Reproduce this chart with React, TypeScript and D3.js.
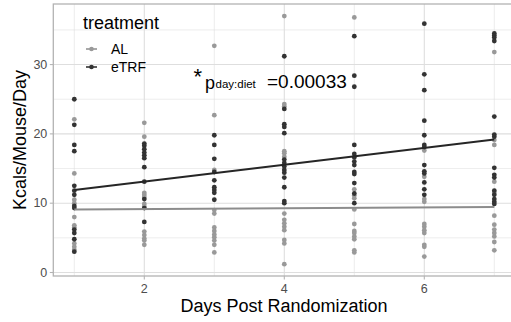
import React from "react";
import * as d3 from "d3";

// ---- data ----
const days = [1, 2, 3, 4, 5, 6, 7];
const alValues: number[][] = [
  [22.1, 14.3, 10.5, 10.0, 8.0, 6.8, 6.5, 4.2, 3.7, 3.3],
  [21.6, 19.6, 11.5, 11.2, 10.9, 9.9, 9.5, 5.9, 5.4, 4.9, 4.6, 4.0],
  [32.7, 22.7, 14.8, 9.0, 8.5, 6.5, 6.0, 5.5, 5.1, 4.6, 4.0, 2.9],
  [37.0, 24.3, 24.0, 17.5, 17.2, 16.7, 8.5, 7.6, 7.1, 6.6, 6.1, 4.7, 4.2, 1.2],
  [36.8, 12.0, 11.1, 10.7, 9.1, 7.0, 6.0, 5.7, 5.2, 4.8, 3.2, 2.9],
  [17.6, 13.8, 10.6, 10.2, 7.0, 6.6, 6.1, 5.7, 4.0, 3.7, 2.3],
  [31.8, 19.1, 18.4, 13.1, 11.5, 8.2, 6.9, 6.2, 5.7, 5.2, 4.4, 3.2],
];
const etrfValues: number[][] = [
  [25.0, 21.3, 18.4, 17.5, 12.5, 11.8, 11.2, 9.6, 9.3, 6.2, 5.7, 4.8, 3.0],
  [18.6, 18.3, 17.8, 17.3, 16.9, 16.5, 15.2, 13.1, 10.6, 9.3, 7.3],
  [19.8, 18.4, 16.4, 14.5, 13.3, 12.3, 11.9, 11.5, 10.5],
  [31.2, 23.6, 21.4, 21.0, 20.1, 16.3, 15.8, 15.3, 14.8, 14.4, 13.7, 12.3, 10.3, 10.0],
  [34.1, 28.4, 26.8, 18.4, 17.1, 16.6, 16.0, 15.5, 14.5, 14.2, 12.9, 11.4, 10.0],
  [35.9, 28.6, 26.3, 21.9, 19.8, 18.4, 18.1, 15.5, 14.6, 14.3, 13.0, 12.0, 11.2],
  [34.5, 34.2, 33.9, 33.4, 22.5, 19.9, 19.6, 15.1, 14.1, 13.7, 11.8, 11.2, 10.6, 10.2, 9.9],
];
// fitted regression line values at day 1 and day 7
const fitDays = [1, 7];
const alFit = [9.1, 9.45];
const etrfFit = [11.9, 19.2];

const xTicks = [2, 4, 6];
const xMinor = [1, 3, 5, 7];
const yTicks = [0, 10, 20, 30];
const yMinor = [5, 15, 25, 35];
const seriesNames = ["AL", "eTRF"];

const W = 511;
const H = 322;
const FONT = "'Liberation Sans', Arial, Helvetica, sans-serif";
const AL_COLOR = "#999999";
const ETRF_COLOR = "#333333";
const AL_LINE = "#8c8c8c";
const ETRF_LINE = "#262626";

export default function App() {
  const panel = { left: 53.3, top: 4, right: 515.3, bottom: 276 };
  const x = d3.scaleLinear().domain([0.7, 7.3]).range([panel.left, panel.right]);
  const y = d3.scaleLinear().domain([-0.505, 38.74]).range([panel.bottom, panel.top]);
  const line = d3
    .line<[number, number]>()
    .x((d) => x(d[0]))
    .y((d) => y(d[1]));

  const pts: { d: number; v: number; c: string; k: string }[] = [];
  days.forEach((d, i) => {
    alValues[i].forEach((v, j) => pts.push({ d, v, c: AL_COLOR, k: `a${i}-${j}` }));
    etrfValues[i].forEach((v, j) => pts.push({ d, v, c: ETRF_COLOR, k: `e${i}-${j}` }));
  });

  const gridMajor = "#dedede";
  const tickColor = "#b3b3b3";
  const labelColor = "#4d4d4d";

  return (
    <svg
      width={W}
      height={H}
      style={{ position: "absolute", left: 0, top: 0, background: "#fff" }}
      fontFamily={FONT}
    >
      <defs>
        <clipPath id="pclip">
          <rect x={panel.left} y={panel.top} width={panel.right - panel.left} height={panel.bottom - panel.top} />
        </clipPath>
      </defs>
      <rect x={0} y={0} width={W} height={H} fill="#fff" />
      <g clipPath="url(#pclip)">
        {yMinor.map((t) => (
          <line key={"ym" + t} x1={panel.left} x2={panel.right} y1={y(t)} y2={y(t)} stroke={gridMajor} strokeWidth={0.55} />
        ))}
        {xMinor.map((t) => (
          <line key={"xm" + t} x1={x(t)} x2={x(t)} y1={panel.top} y2={panel.bottom} stroke={gridMajor} strokeWidth={0.55} />
        ))}
        {yTicks.map((t) => (
          <line key={"yg" + t} x1={panel.left} x2={panel.right} y1={y(t)} y2={y(t)} stroke={gridMajor} strokeWidth={1.07} />
        ))}
        {xTicks.map((t) => (
          <line key={"xg" + t} x1={x(t)} x2={x(t)} y1={panel.top} y2={panel.bottom} stroke={gridMajor} strokeWidth={1.07} />
        ))}
        {pts.map((p) => (
          <circle key={p.k} cx={x(p.d)} cy={y(p.v)} r={2.4} fill={p.c} />
        ))}
        <path d={line(fitDays.map((d, i) => [d, alFit[i]]) as [number, number][]) || ""} fill="none" stroke={AL_LINE} strokeWidth={2} />
        <path d={line(fitDays.map((d, i) => [d, etrfFit[i]]) as [number, number][]) || ""} fill="none" stroke={ETRF_LINE} strokeWidth={2} />
      </g>
      {/* panel border */}
      <rect
        x={panel.left}
        y={panel.top}
        width={panel.right - panel.left}
        height={panel.bottom - panel.top}
        fill="none"
        stroke={tickColor}
        strokeWidth={1.3}
      />
      {/* y axis ticks */}
      {yTicks.map((t) => (
        <g key={"yt" + t}>
          <line x1={panel.left - 3.5} x2={panel.left} y1={y(t)} y2={y(t)} stroke={tickColor} strokeWidth={1.07} />
          <text x={panel.left - 6} y={y(t) + 4.3} textAnchor="end" fontSize={12.5} fill={labelColor}>
            {t}
          </text>
        </g>
      ))}
      {/* x axis ticks */}
      {xTicks.map((t) => (
        <g key={"xt" + t}>
          <line x1={x(t)} x2={x(t)} y1={panel.bottom} y2={panel.bottom + 3.5} stroke={tickColor} strokeWidth={1.07} />
          <text x={x(t)} y={293} textAnchor="middle" fontSize={12.5} fill={labelColor}>
            {t}
          </text>
        </g>
      ))}
      {/* axis titles */}
      <text x={284} y={311.5} textAnchor="middle" fontSize={18} fill="#000">
        Days Post Randomization
      </text>
      <text
        transform={`translate(26,${(panel.top + panel.bottom) / 2}) rotate(-90)`}
        textAnchor="middle"
        fontSize={18}
        fill="#000"
      >
        Kcals/Mouse/Day
      </text>
      {/* legend */}
      <text x={83} y={29} fontSize={18} fill="#000">
        treatment
      </text>
      {seriesNames.map((s, i) => {
        const cy = 49 + i * 18;
        const col = i === 0 ? AL_COLOR : ETRF_COLOR;
        const lc = i === 0 ? AL_LINE : ETRF_LINE;
        return (
          <g key={s}>
            <line x1={86} x2={97} y1={cy} y2={cy} stroke={lc} strokeWidth={1.5} />
            <circle cx={91.5} cy={cy} r={2.3} fill={col} />
            <text x={111} y={cy + 5} fontSize={14} fill="#000">
              {s}
            </text>
          </g>
        );
      })}
      {/* annotation */}
      <text x={193.5} y={84} fontSize={22} fill="#000">
        *
      </text>
      <text x={205} y={88.5} fontSize={18} fill="#000">
        p
      </text>
      <text x={215.5} y={87.5} fontSize={11.5} fill="#000">
        day:diet
      </text>
      <text x={267} y={87.5} fontSize={19} fill="#000">
        =0.00033
      </text>
    </svg>
  );
}
